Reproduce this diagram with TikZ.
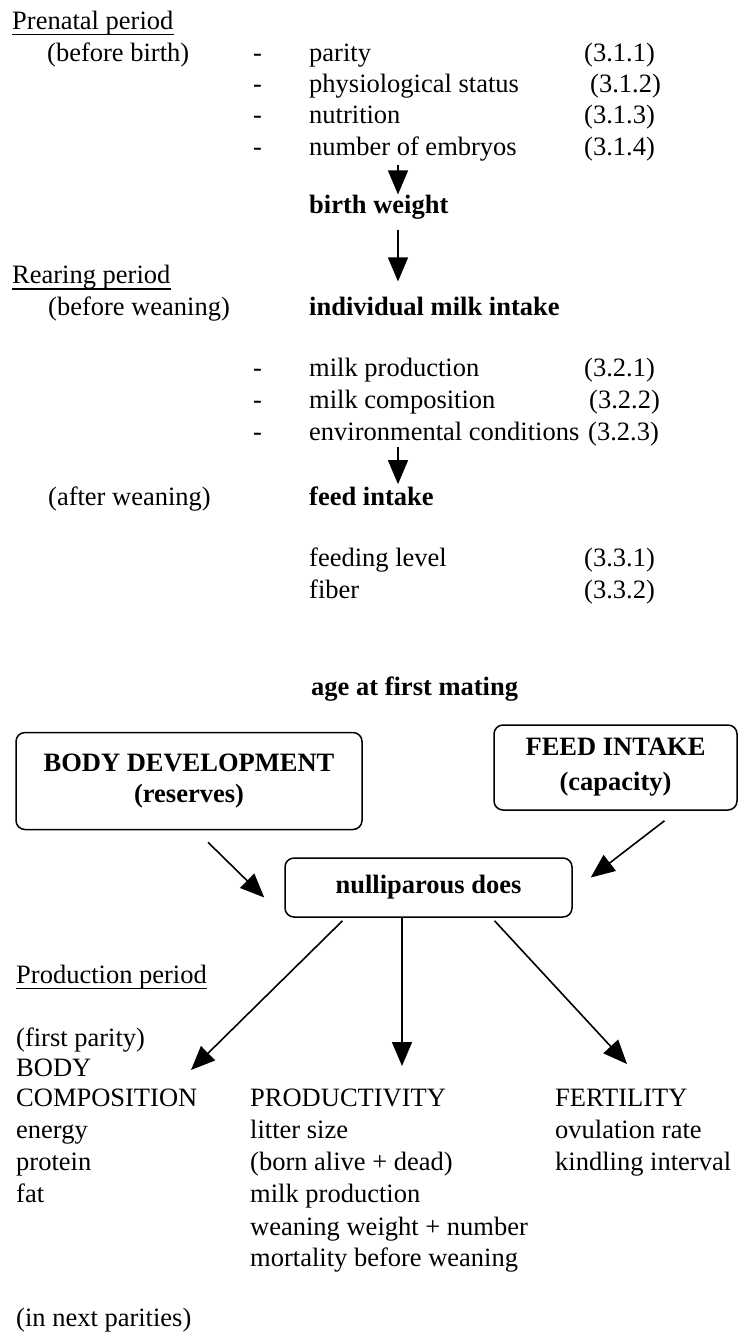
\documentclass[tikz,border=0pt]{standalone}
\usepackage{fontspec}
\setmainfont{Liberation Serif}
\usetikzlibrary{arrows.meta,positioning}
\newcommand{\dfont}{\fontsize{26.5}{31}\selectfont}

\begin{document}
\begin{tikzpicture}
  [x=1pt,y=-1pt,
   every node/.style={inner sep=0pt,anchor=base west,font=\dfont},
   head/.style={font=\dfont\bfseries},
   box/.style={draw,line width=1.5pt,rounded corners=9pt,anchor=center,
     align=center,font=\dfont\bfseries},
   arr/.style={line width=1.6pt,-{Triangle[length=24pt,width=20pt]}},
   uline/.style={line width=1.2pt}]
  \useasboundingbox (0,0) rectangle (739,1334);

  % prenatal period
  \node (pn) at (12,29) {Prenatal period};
  \node (bb) at (47,61) {(before birth)};
  \node (d1) at (253,61) {-};
  \node (d2) at (253,92) {-};
  \node (d3) at (253,123) {-};
  \node (d4) at (253,155) {-};
  \node (par) at (309,61) {parity};
  \node (phy) at (309,92) {physiological status};
  \node (nut) at (309,123) {nutrition};
  \node (emb) at (309,155) {number of embryos};
  \node (r1) at (584,61) {(3.1.1)};
  \node (r2) at (590,92) {(3.1.2)};
  \node (r3) at (584,123) {(3.1.3)};
  \node (r4) at (584,155) {(3.1.4)};
  \node[head] (bw) at (309,213) {birth weight};

  % rearing period
  \node (rp) at (12,283) {Rearing period};
  \node (bwn) at (48,315) {(before weaning)};
  \node[head] (mi) at (309,315) {individual milk intake};
  \node (d5) at (253,376) {-};
  \node (d6) at (253,408) {-};
  \node (d7) at (253,440) {-};
  \node (mp) at (309,376) {milk production};
  \node (mc) at (309,408) {milk composition};
  \node (ec) at (309,440) {environmental conditions};
  \node (r5) at (584,376) {(3.2.1)};
  \node (r6) at (589,408) {(3.2.2)};
  \node (r7) at (588,440) {(3.2.3)};
  \node (aw) at (48,505) {(after weaning)};
  \node[head] (fi) at (309,505) {feed intake};
  \node (fl) at (309,566) {feeding level};
  \node (fb) at (309,598) {fiber};
  \node (r8) at (584,566) {(3.3.1)};
  \node (r9) at (584,598) {(3.3.2)};
  \node[head] (am) at (311,695) {age at first mating};

  % boxes
  \node[box,minimum width=346pt,minimum height=97pt] (bd) at (189,781)
    {BODY DEVELOPMENT\\(reserves)};
  \node[box,minimum width=243pt,minimum height=85pt] (fc) at (615.5,767.5)
    {FEED INTAKE\\[4pt](capacity)};
  \node[box,minimum width=287pt,minimum height=59pt] (nd) at (428.5,887.5)
    {nulliparous does};

  % production period
  \node (pp) at (16,983) {Production period};
  \node (fp) at (16,1046) {(first parity)};
  \node (bo) at (16,1076) {BODY};
  \node (co) at (16,1106) {COMPOSITION};
  \node (en) at (16,1138) {energy};
  \node (pt) at (16,1170) {protein};
  \node (ft) at (16,1202) {fat};
  \node (pd) at (250,1106) {PRODUCTIVITY};
  \node (ls) at (250,1138) {litter size};
  \node (ba) at (250,1170) {(born alive + dead)};
  \node (mp2) at (250,1202) {milk production};
  \node (ww) at (250,1235) {weaning weight + number};
  \node (mb) at (250,1266) {mortality before weaning};
  \node (fe) at (555,1106) {FERTILITY};
  \node (ov) at (555,1138) {ovulation rate};
  \node (ki) at (555,1170) {kindling interval};
  \node (np) at (16,1326) {(in next parities)};

  \coordinate (ax) at (398,0);
  \coordinate (tb) at (191,1070);
  \coordinate (tp) at (402,1066);
  \coordinate (tf) at (627,1064);

  \foreach \n in {pn,rp,pp}
    \draw[uline] (\n.south west) -- (\n.south east);

  \draw[arr,shorten <=4pt] (ax |- emb.south) -- (ax |- bw.north);
  \draw[arr,shorten <=11pt,shorten >=15pt] (ax |- bw.south) -- (ax |- mi.north);
  \draw[arr,shorten <=7pt,shorten >=2pt] (ax |- ec.south) -- (ax |- fi.north);
  \draw[arr] ([shift={(19,12)}]bd.south) -- ([shift={(-20,10)}]nd.west);
  \draw[arr] ([shift={(49,10)}]fc.south) -- ([shift={(18,-10)}]nd.east);
  \draw[arr] ([shift={(-86,3)}]nd.south) -- (tb);
  \draw[arr] (nd.south -| tp) -- (tp);
  \draw[arr] ([shift={(66,3)}]nd.south) -- (tf);
\end{tikzpicture}
\end{document}
